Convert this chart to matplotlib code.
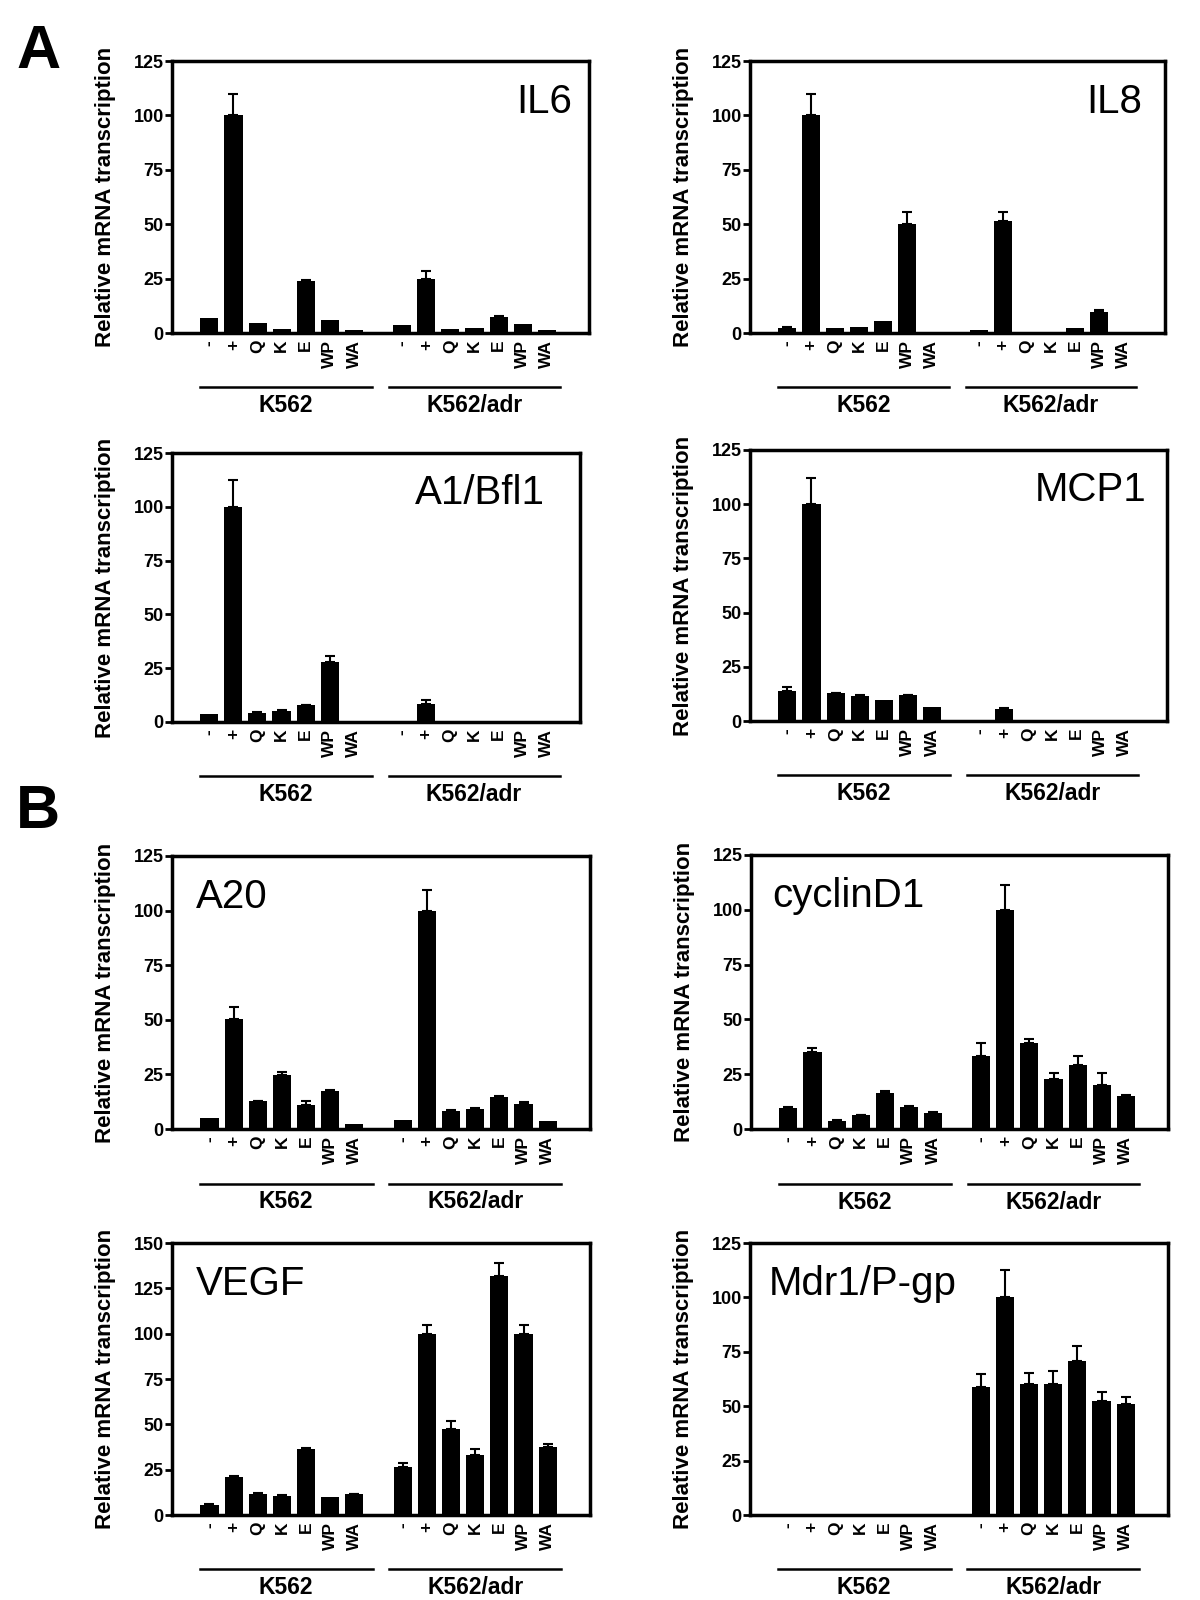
import numpy as np
import matplotlib
matplotlib.use('Agg')
import matplotlib.pyplot as plt
from matplotlib.transforms import blended_transform_factory

plt.rcParams['font.family'] = ['Liberation Sans', 'DejaVu Sans']

labels = ['-', '+', 'Q', 'K', 'E', 'WP', 'WA']
groups = ['K562', 'K562/adr']

# values (means and upper error, per cell line)
il6_k562 = [7, 100, 4.5, 2, 24, 6, 1.5]
il6_k562_err = [0, 10, 0, 0, 0.5, 0, 0]
il6_adr = [3.8, 25, 2, 2.3, 7.3, 4, 1.3]
il6_adr_err = [0, 3.5, 0, 0, 0.7, 0, 0]

il8_k562 = [2.5, 100, 2.3, 2.8, 5.3, 50.3, 0]
il8_k562_err = [0.3, 10, 0, 0, 0, 5.5, 0]
il8_adr = [1.5, 51.4, 0, 0, 2.5, 9.6, 0]
il8_adr_err = [0, 4.1, 0, 0, 0, 0.8, 0]

a1_k562 = [3.9, 100, 4.3, 5, 7.8, 28, 0]
a1_k562_err = [0, 12.3, 0.4, 0.6, 0.3, 2.6, 0]
a1_adr = [0, 8.5, 0, 0, 0, 0, 0]
a1_adr_err = [0, 1.5, 0, 0, 0, 0, 0]

mcp1_k562 = [14, 100, 12.7, 11.6, 9.6, 11.8, 6.3]
mcp1_k562_err = [1.5, 12.3, 0.3, 0.4, 0, 0.4, 0]
mcp1_adr = [0, 5.4, 0, 0, 0, 0, 0]
mcp1_adr_err = [0, 0.4, 0, 0, 0, 0, 0]

a20_k562 = [5, 50.5, 12.7, 24.5, 11.2, 17.3, 2.5]
a20_k562_err = [0, 5.4, 0.3, 1.5, 1.8, 0.7, 0]
a20_adr = [4.3, 100, 8.4, 9.3, 14.7, 11.6, 3.5]
a20_adr_err = [0, 9.5, 0.3, 0.3, 0.4, 0.8, 0]

cyc_k562 = [9.6, 34.9, 3.8, 6.3, 16.5, 10.1, 7.4]
cyc_k562_err = [0.3, 1.9, 0.3, 0.3, 0.8, 0.5, 0.3]
cyc_adr = [33.4, 100, 39.2, 22.7, 29.2, 20, 15]
cyc_adr_err = [5.8, 11.5, 1.8, 2.7, 3.9, 5.7, 0.6]

vegf_k562 = [5.5, 20.8, 11.6, 10.5, 36.3, 10.1, 11.4]
vegf_k562_err = [0.5, 0.5, 0.3, 0.3, 0.5, 0, 0.3]
vegf_adr = [26.3, 100, 47.3, 33.1, 131.7, 100, 37.4]
vegf_adr_err = [2.2, 4.6, 4.6, 3.2, 7, 4.6, 1.6]

mdr1_k562 = [0, 0, 0, 0.5, 0, 0, 0.5]
mdr1_k562_err = [0, 0, 0, 0, 0, 0, 0]
mdr1_adr = [58.9, 100, 60, 60, 70.8, 52.6, 51.1]
mdr1_adr_err = [6, 12.8, 5.4, 6.2, 6.9, 4, 3.2]

W, H = 1200, 1600
fig = plt.figure(figsize=(12, 16), dpi=100)


def panel(left, top, bottom, width, title, tx, k, ke, a, ae, ymax=125, xmax=15.75):
    ax = fig.add_axes([left / W, 1 - bottom / H, width / W, (bottom - top) / H])
    x = np.concatenate([np.arange(7), np.arange(8, 15)])
    vals = np.array(k + a, dtype=float)
    errs = np.array(ke + ae, dtype=float)
    ax.bar(x, vals, width=0.75, color='black')
    m = errs > 0
    ax.errorbar(x[m], vals[m], yerr=[np.zeros(m.sum()), errs[m]], fmt='none',
                ecolor='black', elinewidth=1.5, capsize=3.8, capthick=1.5)
    ax.set_xlim(-1.55, xmax)
    ax.set_ylim(0, ymax)
    ax.set_yticks(np.arange(0, ymax + 1, 25))
    ax.set_xticks(x)
    ax.set_xticklabels(labels * 2, rotation=90, fontsize=12.5, fontweight='bold')
    ax.tick_params(axis='x', length=0, pad=5)
    ax.tick_params(axis='y', direction='out', length=5, width=2, labelsize=13, pad=1)
    for t in ax.get_yticklabels():
        t.set_fontweight('bold')
    for s in ax.spines.values():
        s.set_linewidth(2.5)
    ax.set_ylabel('Relative mRNA transcription', fontsize=16, fontweight='bold')
    ax.yaxis.set_label_coords(-56 / width, 0.5)
    ha = 'right' if tx > 0.5 else 'left'
    ax.text(tx, 0.81, title, transform=ax.transAxes, ha=ha, va='baseline', fontsize=29)
    tr = blended_transform_factory(ax.transData, ax.transAxes)
    for (x0, x1), g in zip([(-0.4, 6.75), (7.45, 14.55)], groups):
        ax.plot([x0, x1], [-0.2, -0.2], transform=tr, color='black', lw=1.8, clip_on=False)
        ax.text((x0 + x1) / 2, -0.225, g, transform=tr, ha='center', va='top',
                fontsize=16.5, fontweight='bold')
    return ax


panel(172, 61, 333, 417, 'IL6', 0.96, il6_k562, il6_k562_err, il6_adr, il6_adr_err)
panel(750, 61, 333, 415, 'IL8', 0.945, il8_k562, il8_k562_err, il8_adr, il8_adr_err)
panel(172, 453, 722, 408, 'A1/Bfl1', 0.915, a1_k562, a1_k562_err, a1_adr, a1_adr_err, xmax=15.4)
panel(750, 450, 721, 417, 'MCP1', 0.95, mcp1_k562, mcp1_k562_err, mcp1_adr, mcp1_adr_err)
panel(172, 856, 1129, 418, 'A20', 0.058, a20_k562, a20_k562_err, a20_adr, a20_adr_err)
panel(751, 855, 1129, 417, 'cyclinD1', 0.05, cyc_k562, cyc_k562_err, cyc_adr, cyc_adr_err)
panel(172, 1243, 1515, 418, 'VEGF', 0.058, vegf_k562, vegf_k562_err, vegf_adr, vegf_adr_err, ymax=150)
panel(750, 1243, 1515, 418, 'Mdr1/P-gp', 0.046, mdr1_k562, mdr1_k562_err, mdr1_adr, mdr1_adr_err)

fig.text(16 / W, 1 - 68 / H, 'A', fontsize=44, fontweight='bold', ha='left', va='baseline')
fig.text(16 / W, 1 - 828 / H, 'B', fontsize=44, fontweight='bold', ha='left', va='baseline')

fig.savefig('out.png', dpi=100, facecolor='white')
